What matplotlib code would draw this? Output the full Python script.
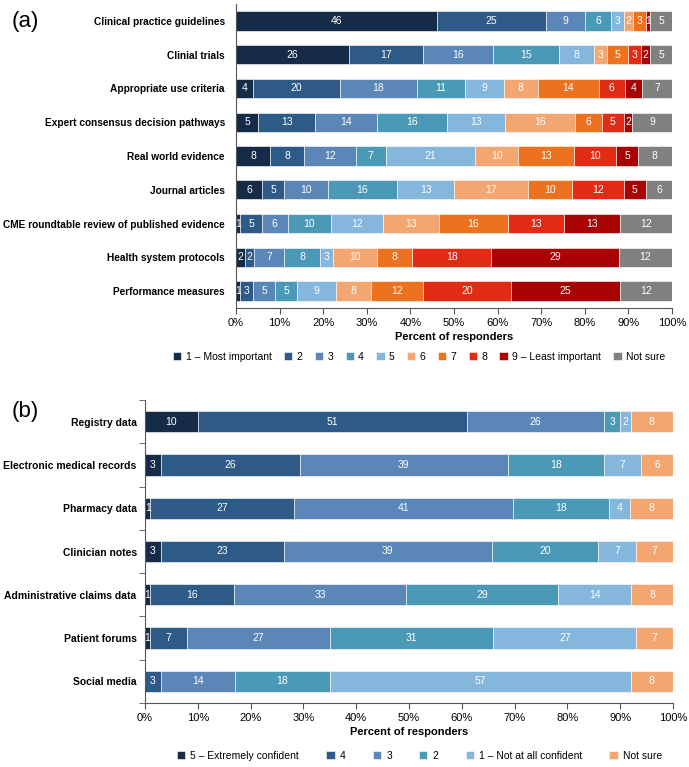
import matplotlib
matplotlib.use("Agg")
import matplotlib.pyplot as plt
import numpy as np

plt.rcParams['font.family'] = ['Liberation Sans', 'DejaVu Sans']

# panel (a): importance ranking of evidence sources
sources = [
    "Clinical practice guidelines",
    "Clinial trials",
    "Appropriate use criteria",
    "Expert consensus decision pathways",
    "Real world evidence",
    "Journal articles",
    "CME roundtable review of published evidence",
    "Health system protocols",
    "Performance measures",
]
rank_labels = ["1 \u2013 Most important", "2", "3", "4", "5", "6", "7", "8",
               "9 \u2013 Least important", "Not sure"]
# one row per source, columns follow rank_labels
rank_values = [
    [46, 25, 9, 6, 3, 2, 3, 0, 1, 5],
    [26, 17, 16, 15, 8, 3, 5, 3, 2, 5],
    [4, 20, 18, 11, 9, 8, 14, 6, 4, 7],
    [5, 13, 14, 16, 13, 16, 6, 5, 2, 9],
    [8, 8, 12, 7, 21, 10, 13, 10, 5, 8],
    [6, 5, 10, 16, 13, 17, 10, 12, 5, 6],
    [1, 5, 6, 10, 12, 13, 16, 13, 13, 12],
    [2, 2, 7, 8, 3, 10, 8, 18, 29, 12],
    [1, 3, 5, 5, 9, 8, 12, 20, 25, 12],
]
rank_colors = ["#162b48", "#2d5a87", "#5a86b8", "#4a9ab7", "#85b6dc",
               "#f3a66f", "#ec7220", "#e12b15", "#a90202", "#808080"]

# panel (b): confidence in data sources
data_sources = [
    "Registry data",
    "Electronic medical records",
    "Pharmacy data",
    "Clinician notes",
    "Administrative claims data",
    "Patient forums",
    "Social media",
]
conf_labels = ["5 \u2013 Extremely confident", "4", "3", "2",
               "1 \u2013 Not at all confident", "Not sure"]
conf_values = [
    [10, 51, 26, 3, 2, 8],
    [3, 26, 39, 18, 7, 6],
    [1, 27, 41, 18, 4, 8],
    [3, 23, 39, 20, 7, 7],
    [1, 16, 33, 29, 14, 8],
    [1, 7, 27, 31, 27, 7],
    [0, 3, 14, 18, 57, 8],
]
conf_colors = ["#162b48", "#2d5a87", "#5a86b8", "#4a9ab7", "#85b6dc", "#f3a66f"]


def stacked(ax, cats, values, labels, colors, height, label_size):
    vals = np.array(values, dtype=float)
    # rounded percentages don't always sum to 100; scale so every bar fills the row
    widths = vals / vals.sum(axis=1, keepdims=True) * 100
    y = np.arange(len(cats))
    left = np.zeros(len(cats))
    for j, lab in enumerate(labels):
        w = widths[:, j]
        bars = ax.barh(y, w, left=left, height=height, color=colors[j],
                       edgecolor="white", linewidth=0.4, label=lab)
        for b, v in zip(bars, vals[:, j]):
            if v > 0:
                ax.text(b.get_x() + b.get_width() / 2, b.get_y() + b.get_height() / 2,
                        f"{int(v)}", ha="center", va="center", color="white",
                        fontsize=7.5)
        left += w
    ax.set_xlim(0, 100)
    ax.set_ylim(len(cats) - 0.5, -0.5)
    ax.set_yticks(y)
    ax.set_yticklabels(cats, fontweight="bold", fontsize=label_size)
    ax.set_xticks(np.arange(0, 101, 10))
    ax.set_xticklabels([f"{t}%" for t in range(0, 101, 10)], fontsize=8)
    ax.set_xlabel("Percent of responders", fontweight="bold", fontsize=8, labelpad=3)
    for s in ["top", "right"]:
        ax.spines[s].set_visible(False)
    ax.spines["left"].set_color("#555555")
    ax.spines["bottom"].set_color("#555555")
    ax.tick_params(axis="x", length=4, color="#555555", pad=3)


fig = plt.figure(figsize=(6.89, 7.67), dpi=100)

ax1 = fig.add_axes([236 / 689, 1 - 308 / 767, 436 / 689, 304 / 767])
stacked(ax1, sources, rank_values, rank_labels, rank_colors, 0.57, 7.3)
ax1.tick_params(axis="y", length=0, pad=8)
ax1.legend(loc="upper center", bbox_to_anchor=(0.42, -0.13), ncol=10,
           frameon=False, fontsize=7.5, handlelength=0.8, handleheight=0.8,
           handletextpad=0.4, columnspacing=1.2, borderaxespad=0)

ax2 = fig.add_axes([145 / 689, 1 - 703 / 767, 528 / 689, 303 / 767])
stacked(ax2, data_sources, conf_values, conf_labels, conf_colors, 0.49, 7.5)
ax2.tick_params(axis="y", which="major", length=0, pad=6)
ax2.set_yticks(np.arange(-0.5, len(data_sources), 1), minor=True)
ax2.tick_params(axis="y", which="minor", length=4, color="#555555")
ax2.legend(loc="upper center", bbox_to_anchor=(0.52, -0.145), ncol=6,
           frameon=False, fontsize=7.5, handlelength=0.8, handleheight=0.8,
           handletextpad=0.5, columnspacing=2.6, borderaxespad=0)

fig.text(12 / 689, 1 - 22 / 767, "(a)", fontsize=16, va="center")
fig.text(12 / 689, 1 - 412 / 767, "(b)", fontsize=16, va="center")

fig.savefig("out.png", dpi=100)
